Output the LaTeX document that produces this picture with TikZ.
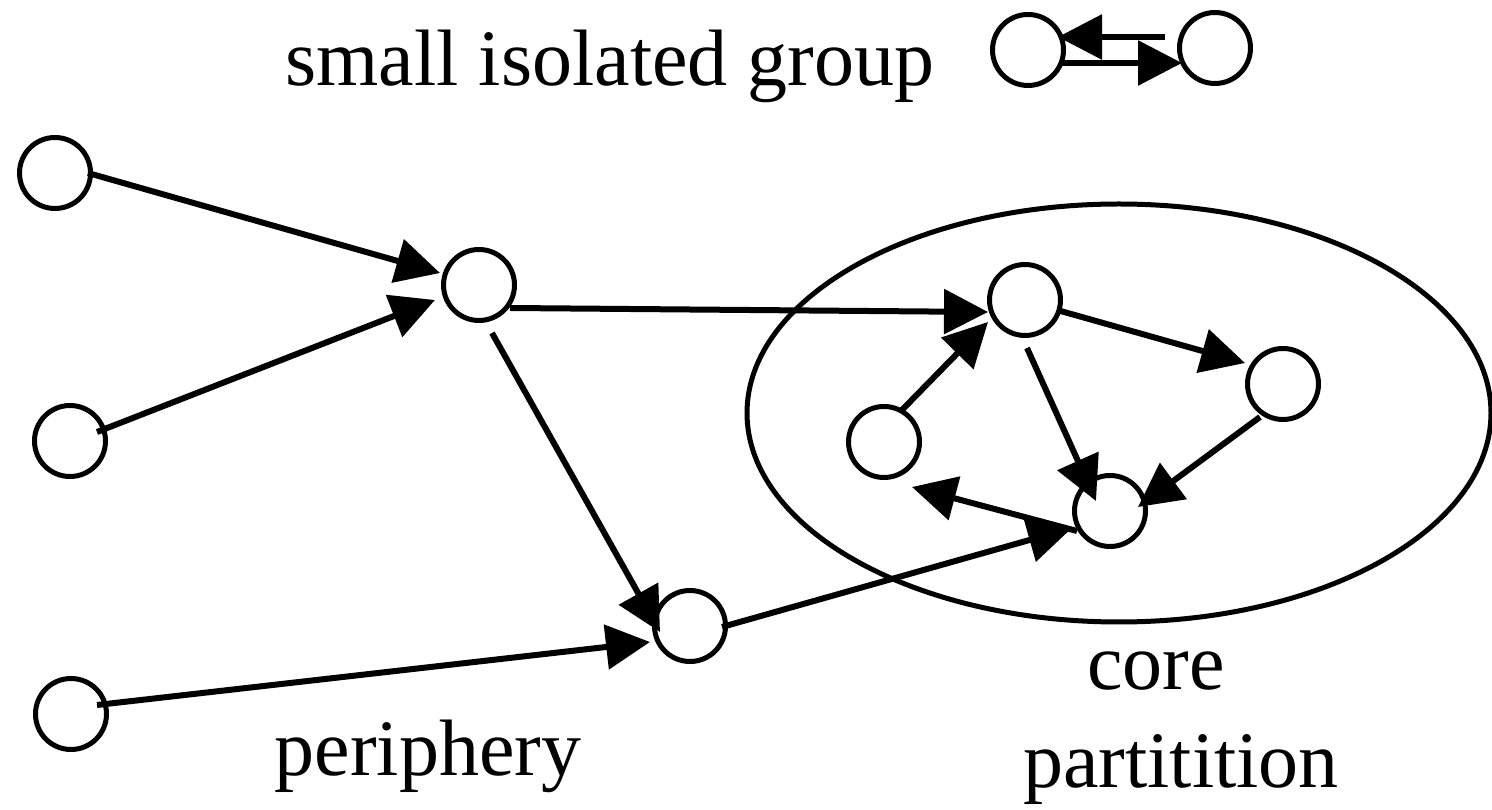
\documentclass[tikz,border=0pt]{standalone}
\usepackage{fontspec}
\setmainfont{Liberation Serif}
\newfontfamily\labelfont{Liberation Serif}
\usetikzlibrary{arrows.meta,calc}
\begin{document}
\begin{tikzpicture}[x=1pt,y=1pt,
  vertex/.style={circle,draw,line width=5pt,minimum size=71pt,inner sep=0pt},
  link/.style={line width=6pt,-{Triangle[length=44pt,width=44pt]}},
  label/.style={anchor=base,inner sep=0pt,font=\labelfont\fontsize{80}{96}\selectfont}]
\useasboundingbox (0,0) rectangle (1492,809);

% core partition boundary
\draw[line width=5pt] (1119,396) ellipse [x radius=372, y radius=209];

% vertices
\node[vertex] (A) at (55,636) {};
\node[vertex] (B) at (70,368) {};
\node[vertex] (C) at (71,95) {};
\node[vertex] (D) at (479,524) {};
\node[vertex] (E) at (690,183) {};
\node[vertex] (F) at (1025,509) {};
\node[vertex] (G) at (1283,425) {};
\node[vertex] (H) at (884,367) {};
\node[vertex] (I) at (1110,298) {};
\node[vertex] (J) at (1028,759) {};
\node[vertex] (K) at (1215,761) {};

% periphery links
\draw[link] ($(A)+(33,0)$) -- ($(D)+(-39,12)$);
\draw[link] ($(B)+(27,9)$) -- ($(D)+(-44,-15)$);
\draw[link] ($(D)+(31,-23)$) -- ($(F)+(-37,-12)$);
\draw[link] ($(D)+(13,-48)$) -- ($(E)+(-30,-6)$);
\draw[link] ($(C)+(26,9)$) -- ($(E)+(-40,-16)$);
\draw[link] ($(E)+(32,-1)$) -- ($(I)+(-38,-17)$);

% core links
\draw[link] ($(F)+(32,-10)$) -- ($(G)+(-38,21)$);
\draw[link] ($(H)+(16,30)$) -- ($(F)+(-37,-22)$);
\draw[link] ($(F)+(2,-48)$) -- ($(I)+(-14,10)$);
\draw[link] ($(G)+(-23,-33)$) -- ($(I)+(28,4)$);
\draw[link] ($(I)+(-33,-20)$) -- ($(H)+(28,-45)$);

% isolated pair
\draw[link] ($(K)+(-50,11)$) -- ($(J)+(30,13)$);
\draw[link] ($(J)+(34,-13)$) -- ($(K)+(-33,-15)$);

% labels
\node[label] (tiso) at (610,723) {small isolated group};
\node[label] (tper) at (428,34) {periphery};
\node[label] (tcore) at (1156,119) {core};
\node[label] (tpart) at (1181,21) {partitition};
\end{tikzpicture}
\end{document}
